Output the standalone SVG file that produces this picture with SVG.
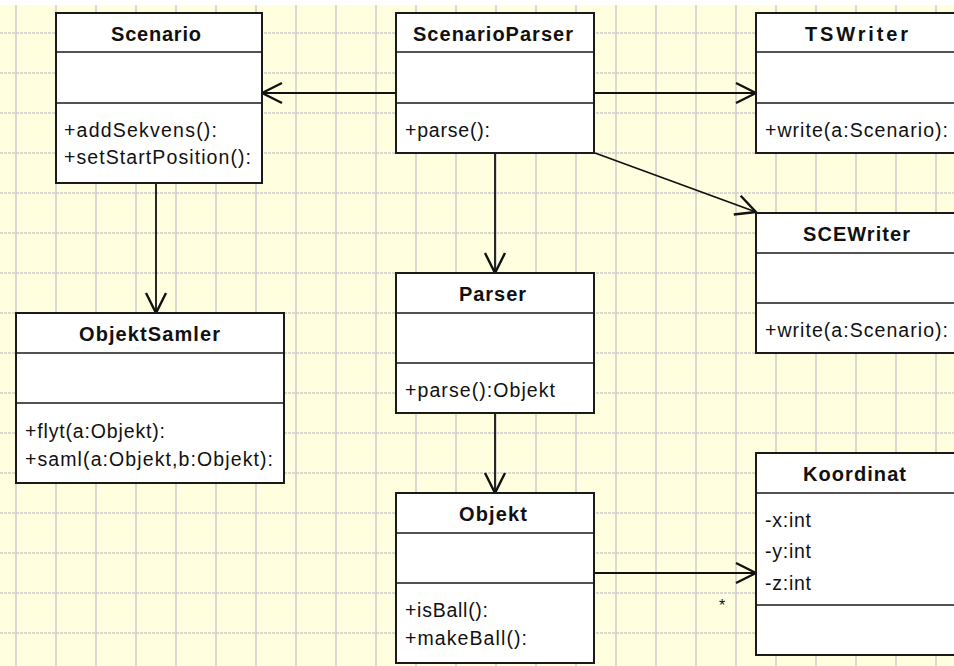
<svg xmlns="http://www.w3.org/2000/svg" width="954" height="666" viewBox="0 0 954 666">
<style>
.box{fill:#fff;stroke:#1a1a1a;stroke-width:2}
.div{stroke:#1a1a1a;stroke-width:1.6}
.t{font-family:"Liberation Sans",Arial,sans-serif;font-size:20px;font-weight:bold;fill:#111}
.m{font-family:"Liberation Sans",Arial,sans-serif;font-size:19.5px;fill:#111}
.edge{stroke:#111;stroke-width:1.8;fill:none;marker-end:url(#open)}
.g{stroke:#cdcdcd;stroke-width:1.5}
</style>
<defs>
<marker id="open" markerUnits="userSpaceOnUse" viewBox="-22 -12 24 24" markerWidth="24" markerHeight="24" refX="0" refY="0" orient="auto">
<path d="M -20 -10 L 0 0 L -20 10" fill="none" stroke="#111" stroke-width="2.4"/>
</marker>
</defs>
<rect x="0" y="0" width="954" height="666" fill="#fff"/>
<rect x="0" y="5" width="954" height="661" fill="#FFFFE0"/>
<g id="grid">
<path class="g" stroke-dasharray="3 1" d="M0 33H954M0 73H954M0 113H954M0 153H954M0 193H954M0 233H954M0 273H954M0 313H954M0 353H954M0 393H954M0 433H954M0 473H954M0 513H954M0 553H954M0 593H954M0 633H954"/>
<path class="g" d="M16 5V666M56 5V666M96 5V666M136 5V666M176 5V666M216 5V666M256 5V666M296 5V666M336 5V666M376 5V666M416 5V666M456 5V666M496 5V666M536 5V666M576 5V666M616 5V666M656 5V666M696 5V666M736 5V666M776 5V666M816 5V666M856 5V666M896 5V666M936 5V666"/>
</g>
<g id="connectors">
<line class="edge" x1="396" y1="93" x2="262" y2="93"/>
<line class="edge" x1="594" y1="93" x2="756" y2="93"/>
<line class="edge" x1="595" y1="153" x2="756" y2="212"/>
<line class="edge" x1="495" y1="153" x2="495" y2="273"/>
<line class="edge" x1="156" y1="183" x2="156" y2="313"/>
<line class="edge" x1="495" y1="413" x2="495" y2="493"/>
<line class="edge" x1="594" y1="573" x2="756" y2="573"/>
<text class="m" x="719" y="611" style="font-size:16px">*</text>
</g>
<g id="Scenario">
<rect class="box" x="56" y="13" width="206" height="170"/>
<line class="div" x1="56" y1="52" x2="262" y2="52"/>
<line class="div" x1="56" y1="103" x2="262" y2="103"/>
<text class="t" x="111" y="40.5" textLength="90" lengthAdjust="spacing">Scenario</text>
<text class="m" x="64" y="137" textLength="153" lengthAdjust="spacing">+addSekvens():</text>
<text class="m" x="64" y="164" textLength="187" lengthAdjust="spacing">+setStartPosition():</text>
</g>
<g id="ScenarioParser">
<rect class="box" x="396" y="13" width="198" height="140"/>
<line class="div" x1="396" y1="52" x2="594" y2="52"/>
<line class="div" x1="396" y1="103" x2="594" y2="103"/>
<text class="t" x="413" y="40.5" textLength="160" lengthAdjust="spacing">ScenarioParser</text>
<text class="m" x="405" y="137" textLength="85" lengthAdjust="spacing">+parse():</text>
</g>
<g id="TSWriter">
<rect class="box" x="756" y="13" width="202" height="140"/>
<line class="div" x1="756" y1="52" x2="958" y2="52"/>
<line class="div" x1="756" y1="103" x2="958" y2="103"/>
<text class="t" x="805" y="40.5" textLength="103" lengthAdjust="spacing">TSWriter</text>
<text class="m" x="765" y="137" textLength="183" lengthAdjust="spacing">+write(a:Scenario):</text>
</g>
<g id="SCEWriter">
<rect class="box" x="756" y="213" width="202" height="140"/>
<line class="div" x1="756" y1="253" x2="958" y2="253"/>
<line class="div" x1="756" y1="303" x2="958" y2="303"/>
<text class="t" x="803" y="240.5" textLength="107" lengthAdjust="spacing">SCEWriter</text>
<text class="m" x="765" y="337" textLength="183" lengthAdjust="spacing">+write(a:Scenario):</text>
</g>
<g id="ObjektSamler">
<rect class="box" x="16" y="313" width="268" height="170"/>
<line class="div" x1="16" y1="353" x2="284" y2="353"/>
<line class="div" x1="16" y1="403" x2="284" y2="403"/>
<text class="t" x="79" y="340.5" textLength="141" lengthAdjust="spacing">ObjektSamler</text>
<text class="m" x="25" y="438" textLength="140" lengthAdjust="spacing">+flyt(a:Objekt):</text>
<text class="m" x="25" y="466" textLength="248" lengthAdjust="spacing">+saml(a:Objekt,b:Objekt):</text>
</g>
<g id="Parser">
<rect class="box" x="396" y="273" width="198" height="140"/>
<line class="div" x1="396" y1="313" x2="594" y2="313"/>
<line class="div" x1="396" y1="363" x2="594" y2="363"/>
<text class="t" x="459" y="300.5" textLength="67" lengthAdjust="spacing">Parser</text>
<text class="m" x="405" y="397" textLength="150" lengthAdjust="spacing">+parse():Objekt</text>
</g>
<g id="Objekt">
<rect class="box" x="396" y="493" width="198" height="170"/>
<line class="div" x1="396" y1="533" x2="594" y2="533"/>
<line class="div" x1="396" y1="583" x2="594" y2="583"/>
<text class="t" x="459" y="520.5" textLength="68" lengthAdjust="spacing">Objekt</text>
<text class="m" x="405" y="617" textLength="83" lengthAdjust="spacing">+isBall():</text>
<text class="m" x="405" y="645" textLength="122" lengthAdjust="spacing">+makeBall():</text>
</g>
<g id="Koordinat">
<rect class="box" x="756" y="453" width="202" height="202"/>
<line class="div" x1="756" y1="493" x2="958" y2="493"/>
<line class="div" x1="756" y1="605" x2="958" y2="605"/>
<text class="t" x="803" y="480.5" textLength="103" lengthAdjust="spacing">Koordinat</text>
<text class="m" x="765" y="527" textLength="46" lengthAdjust="spacing">-x:int</text>
<text class="m" x="765" y="558" textLength="46" lengthAdjust="spacing">-y:int</text>
<text class="m" x="765" y="590" textLength="46" lengthAdjust="spacing">-z:int</text>
</g>
</svg>
